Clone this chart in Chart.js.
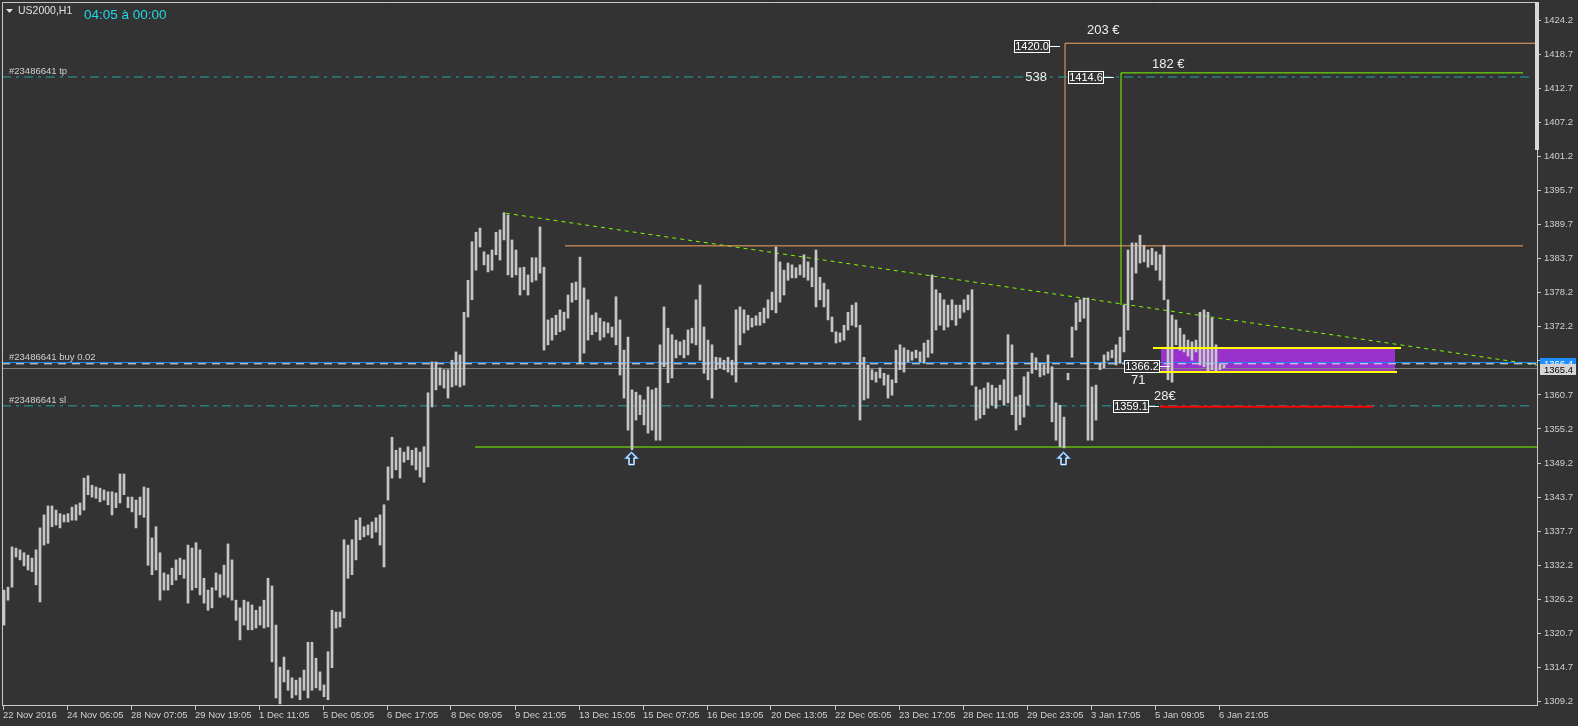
<!DOCTYPE html>
<html>
<head>
<meta charset="utf-8">
<title>US2000,H1</title>
<script src="https://cdn.jsdelivr.net/npm/chart.js@4.4.1/dist/chart.umd.min.js"></script>
<style>
    html, body { margin: 0; padding: 0; background: #333333; }
    #wrap { width: 1578px; height: 726px; }
</style>
</head>
<body>
<div id="wrap"><canvas id="chart" width="1578" height="726"></canvas></div>
<script>
// Hourly bars, taken two at a time: bar i sits at hour 2*i + 0.5
const barHighs = [
    1328.0, 1328.5, 1335.3, 1335.1, 1334.8, 1334.3, 1333.9, 1333.4, 1334.8, 1338.5,
    1340.7, 1342.2, 1342.2, 1341.5, 1340.9, 1340.7, 1340.9, 1342.0, 1342.4, 1342.7,
    1346.9, 1347.3, 1345.7, 1345.4, 1345.2, 1344.9, 1344.6, 1344.6, 1344.4, 1347.6,
    1347.6, 1343.7, 1343.7, 1343.2, 1343.7, 1345.4, 1345.2, 1336.8, 1338.7, 1334.3,
    1330.9, 1330.6, 1331.7, 1333.1, 1333.4, 1333.1, 1335.6, 1335.1, 1336.0, 1334.8,
    1330.0, 1328.0, 1328.4, 1330.9, 1330.6, 1332.2, 1335.8, 1333.1, 1326.3, 1325.0,
    1326.3, 1326.0, 1325.5, 1324.6, 1325.2, 1326.3, 1330.0, 1328.7, 1322.1, 1315.0,
    1316.7, 1314.5, 1313.2, 1312.8, 1313.2, 1314.5, 1319.2, 1319.2, 1316.5, 1314.2,
    1312.0, 1317.6, 1324.6, 1324.3, 1324.3, 1336.5, 1335.6, 1336.5, 1339.8, 1340.2,
    1338.7, 1339.0, 1339.5, 1340.2, 1340.7, 1342.4, 1348.8, 1353.8, 1351.6, 1352.0,
    1351.3, 1352.2, 1351.6, 1352.0, 1351.3, 1352.2, 1361.3, 1366.5, 1366.5, 1365.5,
    1365.2, 1365.2, 1366.8, 1368.2, 1367.7, 1374.9, 1380.3, 1386.8, 1388.4, 1389.1,
    1385.1, 1384.6, 1385.4, 1388.4, 1388.8, 1391.7, 1391.3, 1387.1, 1385.4, 1382.4,
    1382.5, 1381.2, 1384.1, 1384.1, 1389.3, 1382.5, 1373.6, 1373.9, 1374.4, 1375.3,
    1374.9, 1377.8, 1379.8, 1380.0, 1384.2, 1379.0, 1377.0, 1374.4, 1374.8, 1373.9,
    1373.3, 1373.1, 1372.4, 1377.5, 1373.6, 1368.5, 1370.7, 1361.8, 1361.4, 1360.9,
    1360.1, 1362.3, 1361.8, 1362.1, 1369.4, 1375.8, 1372.2, 1371.1, 1370.2, 1369.9,
    1370.2, 1371.9, 1372.2, 1377.0, 1379.5, 1372.4, 1370.2, 1369.4, 1367.3, 1367.2,
    1366.8, 1367.3, 1366.8, 1375.3, 1375.8, 1375.3, 1374.4, 1373.9, 1374.3, 1374.9,
    1375.6, 1377.0, 1378.3, 1385.9, 1383.4, 1382.0, 1383.2, 1382.9, 1382.4, 1382.9,
    1384.6, 1383.4, 1382.4, 1385.4, 1380.8, 1379.8, 1378.7, 1374.1, 1371.6, 1371.4,
    1372.7, 1374.9, 1376.1, 1376.5, 1372.7, 1367.3, 1366.0, 1365.2, 1364.8, 1365.5,
    1364.6, 1364.3, 1363.5, 1368.5, 1369.4, 1368.9, 1368.5, 1368.2, 1368.5, 1368.2,
    1369.7, 1370.2, 1381.2, 1378.7, 1378.1, 1377.0, 1376.1, 1377.0, 1376.1, 1376.1,
    1377.0, 1377.8, 1378.7, 1362.3, 1361.8, 1362.1, 1363.0, 1362.6, 1362.1, 1362.6,
    1363.5, 1371.1, 1369.4, 1360.6, 1360.9, 1364.0, 1364.8, 1368.0, 1367.2, 1366.3,
    1366.0, 1367.7, 1365.7, 1359.6, 1359.2, 1357.2, 1364.6, 1372.4, 1376.5, 1377.0,
    1377.3, 1377.3, 1362.3, 1362.6, 1366.3, 1367.7, 1368.2, 1368.5, 1369.4, 1370.7,
    1376.1, 1385.4, 1386.6, 1386.6, 1387.9, 1386.2, 1385.4, 1385.7, 1385.1, 1384.6,
    1386.2, 1377.0, 1374.4, 1373.6, 1372.2, 1371.1, 1370.2, 1369.9, 1370.2, 1374.9,
    1375.3, 1374.9, 1373.9, 1369.4, 1366.2, 1366.0
];
const barLows = [
    1322.1, 1326.3, 1328.5, 1333.6, 1333.1, 1332.1, 1331.4, 1331.1, 1328.9, 1326.0,
    1335.6, 1335.9, 1338.7, 1339.0, 1338.5, 1339.5, 1339.5, 1339.8, 1339.8, 1340.7,
    1341.5, 1344.1, 1343.7, 1343.5, 1342.9, 1343.2, 1342.4, 1340.7, 1341.9, 1342.7,
    1344.1, 1341.9, 1341.2, 1338.5, 1340.7, 1340.3, 1332.2, 1330.6, 1331.4, 1326.3,
    1328.0, 1328.0, 1328.9, 1329.7, 1330.6, 1330.0, 1325.8, 1328.0, 1328.4, 1327.2,
    1325.8, 1324.6, 1325.0, 1328.0, 1326.8, 1327.2, 1326.8, 1326.3, 1322.9, 1319.6,
    1322.1, 1321.3, 1321.3, 1321.6, 1322.1, 1321.6, 1321.8, 1315.9, 1309.8, 1308.8,
    1312.5, 1311.1, 1309.8, 1310.3, 1309.5, 1311.1, 1309.8, 1311.1, 1311.5, 1311.1,
    1310.0, 1309.5, 1314.9, 1321.6, 1321.8, 1323.3, 1330.0, 1330.6, 1333.1, 1336.5,
    1337.0, 1337.3, 1336.8, 1337.8, 1335.6, 1331.9, 1343.2, 1346.9, 1348.3, 1346.9,
    1349.6, 1350.0, 1349.1, 1348.3, 1347.1, 1346.2, 1348.8, 1358.9, 1361.8, 1362.6,
    1362.1, 1360.4, 1362.3, 1362.6, 1362.3, 1362.6, 1374.1, 1377.0, 1382.0, 1385.9,
    1382.9, 1381.7, 1382.0, 1384.6, 1383.7, 1387.1, 1381.2, 1380.8, 1381.2, 1377.8,
    1378.7, 1377.8, 1380.0, 1380.3, 1381.5, 1368.5, 1369.4, 1370.2, 1371.1, 1371.6,
    1371.9, 1373.9, 1376.6, 1377.0, 1366.3, 1368.0, 1370.2, 1371.1, 1371.6, 1370.2,
    1370.7, 1371.4, 1370.7, 1369.4, 1364.3, 1360.4, 1355.0, 1351.7, 1356.7, 1357.6,
    1355.9, 1354.5, 1355.0, 1353.3, 1353.3, 1365.7, 1363.0, 1363.8, 1367.2, 1367.7,
    1367.2, 1367.7, 1369.7, 1369.4, 1366.8, 1364.6, 1363.5, 1360.4, 1365.2, 1365.5,
    1365.2, 1364.8, 1364.3, 1363.1, 1369.4, 1371.4, 1371.9, 1372.4, 1372.7, 1372.7,
    1373.1, 1373.9, 1375.3, 1374.8, 1376.6, 1377.8, 1380.3, 1380.7, 1380.7, 1381.2,
    1380.8, 1380.3, 1379.2, 1375.8, 1377.0, 1375.8, 1373.6, 1371.6, 1369.7, 1369.9,
    1370.2, 1371.9, 1372.7, 1372.4, 1356.7, 1360.1, 1360.4, 1363.5, 1363.1, 1363.8,
    1362.6, 1360.4, 1360.9, 1363.0, 1365.2, 1364.8, 1366.5, 1366.8, 1367.2, 1366.5,
    1366.3, 1367.3, 1368.0, 1371.9, 1372.7, 1371.9, 1372.4, 1373.6, 1372.7, 1373.9,
    1374.9, 1375.3, 1362.6, 1356.7, 1357.0, 1357.6, 1358.7, 1359.2, 1358.7, 1360.1,
    1359.2, 1359.6, 1357.6, 1355.0, 1355.9, 1357.2, 1359.2, 1364.6, 1365.2, 1364.0,
    1364.3, 1364.6, 1356.4, 1353.3, 1352.2, 1352.0, 1363.5, 1367.3, 1371.9, 1373.3,
    1373.9, 1353.3, 1353.3, 1356.7, 1365.2, 1365.5, 1366.8, 1367.2, 1366.0, 1366.3,
    1368.2, 1371.9, 1377.0, 1381.5, 1383.2, 1383.4, 1382.5, 1382.9, 1382.0, 1380.3,
    1377.0, 1363.5, 1363.1, 1369.4, 1368.5, 1368.2, 1367.5, 1366.8, 1368.2, 1366.0,
    1365.7, 1364.8, 1365.2, 1364.8, 1365.2, 1365.5
];

// price axis: MT4 puts its labels at even pixel steps, the 11th one is hidden under the bid/ask tags
const priceTickLabels = ['1424.2', '1418.7', '1412.7', '1407.2', '1401.2', '1395.7', '1389.7', '1383.7',
    '1378.2', '1372.2', '', '1360.7', '1355.2', '1349.2', '1343.7', '1337.7', '1332.2', '1326.2',
    '1320.7', '1314.7', '1309.2'];
const dateLabels = ['22 Nov 2016', '24 Nov 06:05', '28 Nov 07:05', '29 Nov 19:05', '1 Dec 11:05',
    '5 Dec 05:05', '6 Dec 17:05', '8 Dec 09:05', '9 Dec 21:05', '13 Dec 15:05', '15 Dec 07:05',
    '16 Dec 19:05', '20 Dec 13:05', '22 Dec 05:05', '23 Dec 17:05', '28 Dec 11:05', '29 Dec 23:05',
    '3 Jan 17:05', '5 Jan 09:05', '6 Jan 21:05'];
const hoursPerDateTick = 32;
const priceTickTop = 1424.2;
const priceTickBottom = 1309.2;

// order levels
const tpLevel = 1414.6;
const slLevel = 1359.1;
const buyLevel = 1366.4;
const openLevel = 1366.2;
const bidLevel = 1365.4;
// hand drawn objects
const resistanceLevel = 1386.1;
const supportLevel = 1352.15;
const target1Level = 1420.3;
const target2Level = 1415.3;
const trendStart = { hour: 251.5, price: 1391.6 };
const trendEnd = { hour: 767, price: 1366.0 };
const zoneTop = 1368.85;
const zoneBottom = 1364.8;

const priceBoxes = [
    { text: '1420.0', hour: 523.5, price: 1419.8 },
    { text: '1414.6', hour: 550.5, price: 1414.6 },
    { text: '1366.2', hour: 578.5, price: 1365.8 },
    { text: '1359.1', hour: 573, price: 1359.0 }
];
const noteTexts = [
    { text: '203 €', hour: 542, price: 1422.4, align: 'left' },
    { text: '182 €', hour: 574.5, price: 1416.7, align: 'left' },
    { text: '538', hour: 522, price: 1414.6, align: 'right' },
    { text: '71', hour: 564, price: 1363.45, align: 'left' },
    { text: '28€', hour: 575.5, price: 1360.7, align: 'left' }
];
const arrowMarks = [
    { hour: 314, price: 1351.3 },
    { hour: 530, price: 1351.3 }
];

const BG = '#333333';
const FG = '#cfcfcf';
const SMALL_FONT = { family: "'Liberation Sans', Arial, sans-serif", size: 9.5 };

function levelLine(x0, x1, y0, y1, color, dash, width, order) {
    return {
        type: 'line',
        data: [{ x: x0, y: y0 }, { x: x1, y: y1 }],
        borderColor: color,
        borderWidth: width || 1,
        borderDash: dash || [],
        pointRadius: 0,
        fill: false,
        tension: 0,
        order: order === undefined ? 2 : order
    };
}

const barData = barHighs.map((hi, i) => ({ x: 2 * i + 0.5, y: [barLows[i], hi] }));

const datasets = [
    {
        type: 'bar',
        data: barData,
        backgroundColor: '#c6c6c6',
        borderWidth: 0,
        barThickness: 2,
        minBarLength: 1,
        order: 1
    },
    levelLine(-0.5, 763.5, tpLevel, tpLevel, '#22a4a4', [9, 5, 3, 5]),
    levelLine(-0.5, 763.5, slLevel, slLevel, '#22a4a4', [9, 5, 3, 5]),
    levelLine(-0.5, 767, buyLevel, buyLevel, '#1e90ff', []),
    levelLine(-0.5, 767, openLevel, openLevel, '#f0f0f0', [8, 6]),
    levelLine(-0.5, 767, bidLevel, bidLevel, '#808080', []),
    levelLine(281, 760, resistanceLevel, resistanceLevel, '#f4a460', []),
    levelLine(236, 767, supportLevel, supportLevel, '#7cfc00', []),
    { ...levelLine(531, 767, resistanceLevel, target1Level, '#f4a460', []),
      data: [{ x: 531, y: resistanceLevel }, { x: 531, y: target1Level }, { x: 767, y: target1Level }] },
    { ...levelLine(559, 760, 1376.1, target2Level, '#7cfc00', []),
      data: [{ x: 559, y: 1376.1 }, { x: 559, y: target2Level }, { x: 760, y: target2Level }] },
    levelLine(578.5, 685, 1358.95, 1358.95, '#ff0000', [], 2, 0),
    levelLine(575, 699, zoneTop, zoneTop, '#ffff00', [], 2, 0),
    levelLine(578, 697, zoneBottom, zoneBottom, '#ffff00', [], 2, 0),
    levelLine(trendStart.hour, trendEnd.hour, trendStart.price, trendEnd.price, '#7cfc00', [4, 4])
];

const mt4Objects = {
    id: 'mt4Objects',
    beforeDatasetsDraw(chart) {
        const { ctx, scales: { x, y } } = chart;
        ctx.save();
        ctx.fillStyle = '#9932cc';
        const x0 = x.getPixelForValue(579), x1 = x.getPixelForValue(696);
        const y0 = y.getPixelForValue(zoneTop), y1 = y.getPixelForValue(zoneBottom);
        ctx.fillRect(x0, y0, x1 - x0, y1 - y0);
        ctx.restore();
    },
    afterDatasetsDraw(chart) {
        const { ctx, chartArea, scales: { x, y } } = chart;
        ctx.save();

        // price boxes with their small tails
        ctx.font = "11px 'Liberation Sans', Arial, sans-serif";
        ctx.textAlign = 'center';
        ctx.textBaseline = 'middle';
        priceBoxes.forEach(b => {
            const right = Math.round(x.getPixelForValue(b.hour));
            const cy = Math.round(y.getPixelForValue(b.price));
            ctx.fillStyle = BG;
            ctx.fillRect(right - 36, cy - 6, 36, 12);
            ctx.strokeStyle = '#ffffff';
            ctx.lineWidth = 1;
            ctx.strokeRect(right - 35.5, cy - 5.5, 35, 12);
            ctx.beginPath();
            ctx.moveTo(right, cy + 0.5);
            ctx.lineTo(right + 10, cy + 0.5);
            ctx.stroke();
            ctx.fillStyle = '#ffffff';
            ctx.fillText(b.text, right - 18, cy + 1);
        });

        ctx.font = "13px 'Liberation Sans', Arial, sans-serif";
        ctx.fillStyle = '#eeeeee';
        noteTexts.forEach(t => {
            ctx.textAlign = t.align;
            ctx.fillText(t.text, x.getPixelForValue(t.hour), y.getPixelForValue(t.price));
        });

        // up arrows under the two lows
        arrowMarks.forEach(a => {
            const cx = Math.round(x.getPixelForValue(a.hour)) + 0.5;
            const ty = Math.round(y.getPixelForValue(a.price)) + 0.5;
            ctx.beginPath();
            ctx.moveTo(cx, ty);
            ctx.lineTo(cx + 5.5, ty + 5.5);
            ctx.lineTo(cx + 2.5, ty + 5.5);
            ctx.lineTo(cx + 2.5, ty + 12);
            ctx.lineTo(cx - 2.5, ty + 12);
            ctx.lineTo(cx - 2.5, ty + 5.5);
            ctx.lineTo(cx - 5.5, ty + 5.5);
            ctx.closePath();
            ctx.fillStyle = BG;
            ctx.fill();
            ctx.strokeStyle = '#4a90e2';
            ctx.lineWidth = 2;
            ctx.stroke();
            ctx.strokeStyle = '#f4f4f4';
            ctx.lineWidth = 1;
            ctx.stroke();
        });

        // order line captions
        ctx.font = "9.5px 'Liberation Sans', Arial, sans-serif";
        ctx.fillStyle = FG;
        ctx.textAlign = 'left';
        ctx.textBaseline = 'alphabetic';
        [['#23486641 tp', tpLevel], ['#23486641 buy 0.02', buyLevel], ['#23486641 sl', slLevel]].forEach(([txt, lvl]) => {
            ctx.fillText(txt, chartArea.left + 7, y.getPixelForValue(lvl) - 3);
        });
        ctx.restore();
    },
    afterDraw(chart) {
        const { ctx, chartArea, scales: { y } } = chart;
        ctx.save();
        // frame on the left and top
        ctx.strokeStyle = '#c8c8c8';
        ctx.lineWidth = 1;
        ctx.beginPath();
        ctx.moveTo(chartArea.left + 0.5, chartArea.bottom);
        ctx.lineTo(chartArea.left + 0.5, chartArea.top + 0.5);
        ctx.lineTo(chartArea.right, chartArea.top + 0.5);
        ctx.stroke();
        // scroll marker on the right edge
        ctx.fillStyle = '#d8d8d8';
        ctx.fillRect(chartArea.right - 2, chartArea.top, 4, 148);

        // ask / bid labels on the price axis
        ctx.font = "9.5px 'Liberation Sans', Arial, sans-serif";
        ctx.textBaseline = 'middle';
        ctx.textAlign = 'left';
        const askY = Math.round(y.getPixelForValue(buyLevel));
        ctx.fillStyle = '#1e90ff';
        ctx.fillRect(chartArea.right + 3, askY - 5, 36, 11);
        ctx.fillStyle = '#ffffff';
        ctx.fillText(buyLevel.toFixed(1), chartArea.right + 7, askY + 1);
        const bidY = Math.round(y.getPixelForValue(bidLevel));
        ctx.fillStyle = '#d4d4d4';
        ctx.fillRect(chartArea.right + 3, bidY - 5, 36, 11);
        ctx.fillStyle = '#000000';
        ctx.fillText(bidLevel.toFixed(1), chartArea.right + 7, bidY + 1);

        // symbol caption and bar timer
        ctx.fillStyle = '#e0e0e0';
        ctx.beginPath();
        ctx.moveTo(6, 9);
        ctx.lineTo(13, 9);
        ctx.lineTo(9.5, 13);
        ctx.closePath();
        ctx.fill();
        ctx.font = "10.5px 'Liberation Sans', Arial, sans-serif";
        ctx.textBaseline = 'alphabetic';
        ctx.fillText('US2000,H1', 18, 14);
        ctx.fillStyle = '#1fd8e6';
        ctx.font = "13.5px 'Liberation Sans', Arial, sans-serif";
        ctx.fillText('04:05 à 00:00', 84, 19);
        ctx.restore();
    }
};

const priceStep = (priceTickTop - priceTickBottom) / (priceTickLabels.length - 1);

new Chart(document.getElementById('chart'), {
    type: 'bar',
    data: { datasets },
    plugins: [mt4Objects],
    options: {
        responsive: false,
        animation: false,
        events: [],
        layout: { padding: { left: 2, top: 2, right: 0, bottom: 0 } },
        plugins: { legend: { display: false }, tooltip: { enabled: false } },
        scales: {
            x: {
                type: 'linear',
                min: -0.5,
                max: 767,
                offset: false,
                afterBuildTicks: s => { s.ticks = dateLabels.map((_, k) => ({ value: k * hoursPerDateTick })); },
                afterFit: s => { s.height = 21; s.paddingLeft = 0; s.paddingRight = 0; },
                ticks: {
                    autoSkip: false,
                    maxRotation: 0,
                    align: 'start',
                    padding: 0,
                    color: FG,
                    font: SMALL_FONT,
                    callback: (v, i) => dateLabels[i]
                },
                grid: { drawOnChartArea: false, offset: false, tickLength: 5, color: '#c8c8c8' },
                border: { display: true, color: '#c8c8c8' }
            },
            y: {
                type: 'linear',
                position: 'right',
                min: 1308.61,
                max: 1427.26,
                afterBuildTicks: s => {
                    s.ticks = priceTickLabels.map((_, k) => ({ value: priceTickTop - k * priceStep }));
                },
                afterFit: s => { s.width = 41; s.paddingTop = 0; s.paddingBottom = 0; },
                ticks: {
                    padding: 3,
                    color: FG,
                    font: SMALL_FONT,
                    callback: (v, i) => priceTickLabels[i]
                },
                grid: { drawOnChartArea: false, tickLength: 4, color: '#c8c8c8' },
                border: { display: true, color: '#c8c8c8' }
            }
        }
    }
});
</script>
</body>
</html>
